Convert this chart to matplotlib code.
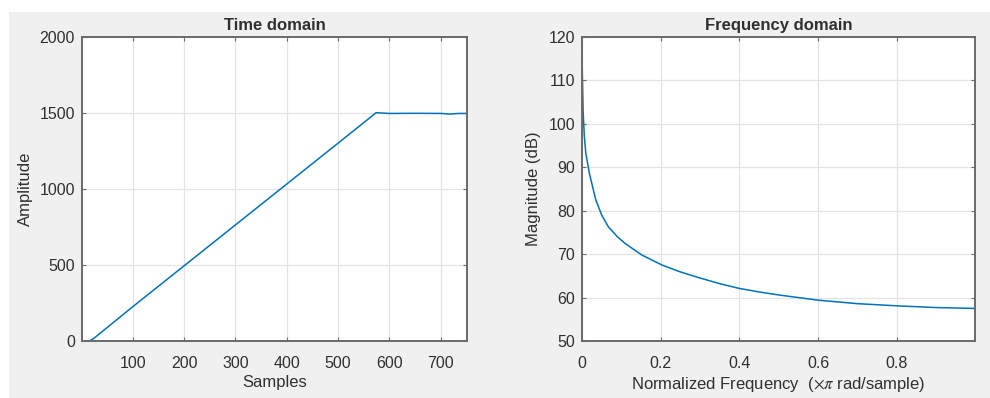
import matplotlib
matplotlib.use("Agg")
import matplotlib.pyplot as plt
from matplotlib.patches import Rectangle

plt.rcParams['font.family'] = ['Liberation Sans', 'DejaVu Sans']
plt.rcParams['mathtext.fontset'] = 'stix'

# Time domain data
samples = [1, 16, 25, 100, 200, 300, 400, 500, 574, 600, 650, 700, 718, 735, 750]
amplitude = [0, 0, 20, 226, 495, 764, 1033, 1302, 1502, 1497, 1498, 1497, 1493, 1497, 1497]

# Frequency domain data
freq = [0.0, 0.001, 0.003, 0.006, 0.010, 0.019, 0.035, 0.05, 0.067, 0.09, 0.109, 0.152,
        0.203, 0.25, 0.3, 0.35, 0.4, 0.45, 0.5, 0.6, 0.7, 0.8, 0.9, 0.9987]
mag_db = [116.6, 111.0, 102.5, 97.0, 93.0, 88.5, 82.5, 79.0, 76.3, 74.0, 72.5, 69.8,
          67.5, 65.9, 64.5, 63.2, 62.1, 61.3, 60.6, 59.4, 58.6, 58.1, 57.7, 57.5]

time_xticks = [100, 200, 300, 400, 500, 600, 700]
time_yticks = [0, 500, 1000, 1500, 2000]
freq_xticks = [0, 0.2, 0.4, 0.6, 0.8]
freq_yticks = [50, 60, 70, 80, 90, 100, 110, 120]

W, H = 990, 398
fig = plt.figure(figsize=(W / 100, H / 100), dpi=100, facecolor='white')
fig.patches.append(Rectangle((9 / W, 0), 1 - 9 / W, (H - 12) / H,
                             transform=fig.transFigure, facecolor='#F0F0F0',
                             edgecolor='none', zorder=-10))

line_color = '#0072BD'
text_color = '#303030'
spine_color = '#6a6a6a'
grid_color = '#e3e3e3'


def style(ax):
    ax.set_facecolor('white')
    for s in ax.spines.values():
        s.set_color(spine_color)
        s.set_linewidth(1.4)
    ax.grid(True, color=grid_color, linewidth=0.9)
    ax.set_axisbelow(True)
    ax.tick_params(direction='in', length=3, width=0.8, colors=spine_color,
                   labelcolor=text_color, labelsize=11.5,
                   top=True, right=True)
    ax.tick_params(axis='x', pad=11)
    ax.tick_params(axis='y', pad=5)


ax1 = fig.add_axes([82 / W, (H - 341) / H, 385 / W, 304 / H])
ax1.plot(samples, amplitude, color=line_color, linewidth=1.1)
ax1.set_xlim(1, 751)
ax1.set_ylim(0, 2000)
ax1.set_xticks(time_xticks)
ax1.set_yticks(time_yticks)
style(ax1)
ax1.set_title('Time domain', fontsize=12, fontweight='bold', color=text_color, pad=5)
ax1.set_xlabel('Samples', fontsize=12, color=text_color, labelpad=3)
ax1.set_ylabel('Amplitude', fontsize=12, color=text_color, labelpad=5)

ax2 = fig.add_axes([582 / W, (H - 341) / H, 393 / W, 304 / H])
ax2.plot(freq, mag_db, color=line_color, linewidth=1.1)
ax2.set_xlim(0, 0.9987)
ax2.set_ylim(50, 120)
ax2.set_xticks(freq_xticks)
ax2.set_xticklabels(['0', '0.2', '0.4', '0.6', '0.8'])
ax2.set_yticks(freq_yticks)
style(ax2)
ax2.set_title('Frequency domain', fontsize=12, fontweight='bold', color=text_color, pad=5)
ax2.set_xlabel(r'Normalized Frequency  ($\times\pi$ rad/sample)', fontsize=12,
               color=text_color, labelpad=3)
ax2.set_ylabel('Magnitude (dB)', fontsize=12, color=text_color, labelpad=5)

fig.savefig('out.png', dpi=100, facecolor=fig.get_facecolor())
